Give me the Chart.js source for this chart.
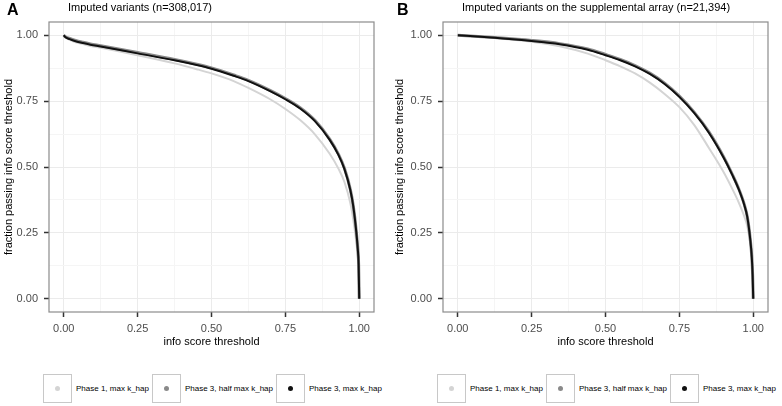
<!DOCTYPE html>
<html>
<head>
<meta charset="utf-8">
<script src="https://cdn.jsdelivr.net/npm/chart.js@4"></script>
<style>
  body { margin: 0; background: #fff; font-family: "Liberation Sans", Arial, sans-serif; }
  #wrap { position: relative; width: 782px; height: 406px; overflow: hidden; }
  canvas { position: absolute; top: 0; }
  .panel-tag { position: absolute; top: 1px; font-size: 16px; font-weight: bold; color: #000; }
  .panel-title { position: absolute; top: 1px; font-size: 11px; color: #000; white-space: nowrap; }
  .legend { position: absolute; top: 374px; display: flex; align-items: center; font-size: 8px; color: #000; white-space: nowrap; }
  .key { width: 27px; height: 27px; border: 1px solid #c8c8c8; position: relative; }
  .key span { position: absolute; left: 11px; top: 11px; width: 5px; height: 5px; border-radius: 50%; }
  .lab { margin: 0 3px 0 4px; }
</style>
</head>
<body>
<div id="wrap">
  <canvas id="chartA" width="391" height="353" style="left:0"></canvas>
  <canvas id="chartB" width="391" height="353" style="left:391px"></canvas>
  <div class="panel-tag" style="left:7px">A</div>
  <div class="panel-tag" style="left:397px">B</div>
  <div class="panel-title" style="left:68px">Imputed variants (n=308,017)</div>
  <div class="panel-title" style="left:462px">Imputed variants on the supplemental array (n=21,394)</div>
  <div class="legend" id="legendA" style="left:43px"></div>
  <div class="legend" id="legendB" style="left:437px"></div>
</div>
<script>
// legend / series
const seriesLabels = ['Phase 1, max k_hap', 'Phase 3, half max k_hap', 'Phase 3, max k_hap'];
const seriesColors = ['#d4d4d4', '#8a8a8a', '#111111'];

// axis ticks (major + minor grid)
const tickValues = [0, 0.125, 0.25, 0.375, 0.5, 0.625, 0.75, 0.875, 1.0];

// panel A: all imputed variants
const thresholdsA = [0, 0.005, 0.02, 0.04, 0.065, 0.09, 0.125, 0.25, 0.375, 0.45, 0.5, 0.575, 0.625, 0.7, 0.75, 0.8, 0.85, 0.9, 0.93, 0.95, 0.97, 0.98, 0.99, 0.995, 0.998, 1.0];
const phase1A     = [1.0, 0.992, 0.982, 0.973, 0.966, 0.959, 0.952, 0.924, 0.893, 0.871, 0.855, 0.826, 0.800, 0.756, 0.720, 0.678, 0.624, 0.550, 0.493, 0.443, 0.362, 0.300, 0.215, 0.160, 0.110, 0.0];
const phase3HalfA = [1.0, 0.994, 0.988, 0.980, 0.973, 0.967, 0.960, 0.934, 0.908, 0.890, 0.876, 0.849, 0.829, 0.790, 0.760, 0.725, 0.677, 0.606, 0.548, 0.495, 0.414, 0.352, 0.257, 0.191, 0.131, 0.0];
const phase3MaxA  = [1.0, 0.993, 0.985, 0.977, 0.970, 0.964, 0.957, 0.931, 0.905, 0.887, 0.873, 0.846, 0.826, 0.787, 0.757, 0.722, 0.674, 0.603, 0.545, 0.492, 0.412, 0.350, 0.255, 0.190, 0.130, 0.0];

// panel B: imputed variants on the supplemental array
const thresholdsB = [0, 0.125, 0.25, 0.345, 0.44, 0.5, 0.55, 0.6, 0.65, 0.7, 0.75, 0.8, 0.85, 0.9, 0.93, 0.95, 0.97, 0.98, 0.99, 0.995, 0.998, 1.0];
const phase1B     = [1.0, 0.989, 0.975, 0.958, 0.930, 0.905, 0.882, 0.855, 0.820, 0.777, 0.727, 0.660, 0.572, 0.480, 0.415, 0.368, 0.312, 0.275, 0.208, 0.152, 0.087, 0.0];
const phase3HalfB = [1.0, 0.991, 0.980, 0.968, 0.948, 0.927, 0.908, 0.885, 0.856, 0.818, 0.769, 0.708, 0.633, 0.538, 0.470, 0.420, 0.357, 0.311, 0.226, 0.161, 0.091, 0.0];
const phase3MaxB  = [1.0, 0.990, 0.978, 0.966, 0.945, 0.924, 0.905, 0.882, 0.853, 0.815, 0.766, 0.705, 0.630, 0.535, 0.468, 0.418, 0.355, 0.310, 0.225, 0.160, 0.090, 0.0];

const isMajor = v => Math.abs(v * 4 - Math.round(v * 4)) < 1e-9;

const panelBorder = {
    id: 'panelBorder',
    afterDraw(chart) {
        const a = chart.chartArea;
        const ctx = chart.ctx;
        ctx.save();
        ctx.strokeStyle = '#8c8c8c';
        ctx.lineWidth = 1.2;
        ctx.strokeRect(a.left, a.top, a.right - a.left, a.bottom - a.top);
        ctx.restore();
    }
};

function axisOptions(titleText, fitSize, horizontal) {
    return {
        type: 'linear',
        min: -0.05,
        max: 1.05,
        afterBuildTicks: s => { s.ticks = tickValues.map(v => ({ value: v })); },
        afterFit: s => { if (horizontal) s.height = fitSize; else s.width = fitSize; },
        ticks: {
            autoSkip: false,
            maxRotation: 0,
            padding: horizontal ? 5 : 6,
            color: '#4d4d4d',
            font: { family: '"Liberation Sans", Arial, sans-serif', size: 11 },
            callback: v => isMajor(v) ? v.toFixed(2) : ''
        },
        grid: {
            color: c => isMajor(c.tick.value) ? '#ebebeb' : '#f5f5f5',
            lineWidth: 1,
            drawTicks: true,
            tickLength: 5,
            tickColor: c => isMajor(c.tick.value) ? '#333333' : 'rgba(0,0,0,0)',
            tickWidth: 1.5
        },
        border: { display: false },
        title: {
            display: true,
            text: titleText,
            color: '#000',
            font: { family: '"Liberation Sans", Arial, sans-serif', size: 11 },
            padding: horizontal ? { top: 2, bottom: 4 } : { top: 2, bottom: 2 }
        }
    };
}

function makeChart(id, xs, ys1, ys2, ys3, yAxisWidth, rightPad) {
    const series = [ys3, ys2, ys1]; // black drawn on top
    const widths = [2, 3, 2];
    const colors = [seriesColors[2], seriesColors[1], seriesColors[0]];
    const labels = [seriesLabels[2], seriesLabels[1], seriesLabels[0]];
    const ctx = document.getElementById(id).getContext('2d');
    return new Chart(ctx, {
        type: 'line',
        data: {
            datasets: series.map((ys, i) => ({
                label: labels[i],
                data: xs.map((x, j) => ({ x: x, y: ys[j] })),
                borderColor: colors[i],
                borderWidth: widths[i],
                pointRadius: 0,
                fill: false,
                cubicInterpolationMode: 'monotone'
            }))
        },
        options: {
            responsive: false,
            animation: false,
            devicePixelRatio: 1,
            layout: { padding: { left: 0, top: 22, right: rightPad, bottom: 0 } },
            plugins: { legend: { display: false }, tooltip: { enabled: false } },
            scales: {
                x: axisOptions('info score threshold', 41, true),
                y: axisOptions('fraction passing info score threshold', yAxisWidth, false)
            }
        },
        plugins: [panelBorder]
    });
}

function buildLegend(id) {
    const el = document.getElementById(id);
    seriesLabels.forEach((lab, i) => {
        const key = document.createElement('div');
        key.className = 'key';
        const dot = document.createElement('span');
        dot.style.background = seriesColors[i];
        key.appendChild(dot);
        const txt = document.createElement('div');
        txt.className = 'lab';
        txt.textContent = lab;
        el.appendChild(key);
        el.appendChild(txt);
    });
}

makeChart('chartA', thresholdsA, phase1A, phase3HalfA, phase3MaxA, 49, 17);
makeChart('chartB', thresholdsB, phase1B, phase3HalfB, phase3MaxB, 52, 14);
buildLegend('legendA');
buildLegend('legendB');
</script>
</body>
</html>
